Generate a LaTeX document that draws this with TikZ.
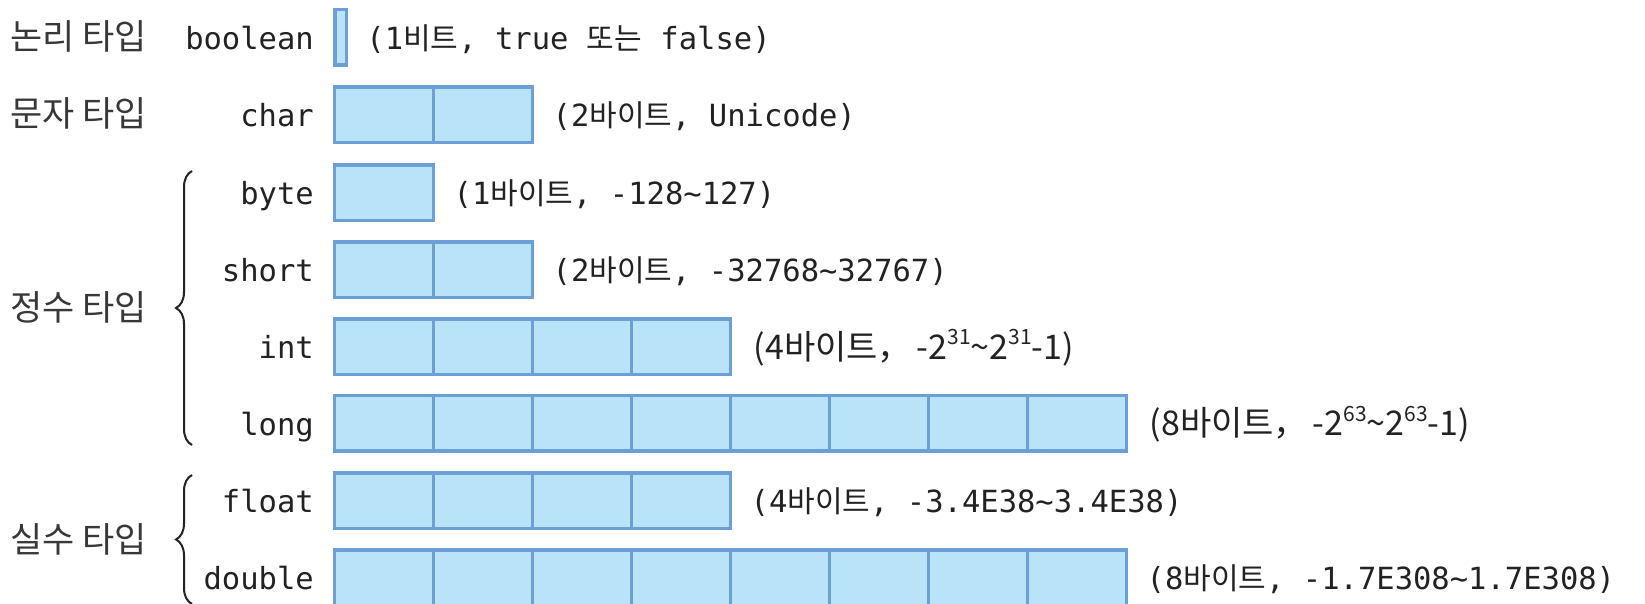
\documentclass[tikz,border=0pt]{standalone}
\usepackage{fontspec}
\setmonofont{DejaVu Sans Mono}
\newfontfamily\krfont{Noto Sans CJK KR}
\usetikzlibrary{decorations.pathreplacing}
\definecolor{cellfill}{HTML}{B9E3F8}
\definecolor{celldraw}{HTML}{6B9FD6}
\definecolor{ink}{HTML}{222222}
\newcommand\ko[1]{{\krfont\fontsize{30}{34}\selectfont #1}}
\newcommand\supr[1]{\raisebox{0.42em}{\fontsize{21}{21}\selectfont #1}}
\newcommand\typerow[3]{%
  \foreach \i in {1,...,#3}{\node[cell] (#1-\i) at ({334.5+99*(\i-0.5)},#2) {};}
  \node[tname] (#1-label) at (314,#2) {#1};
}
\begin{document}
\begin{tikzpicture}[x=1pt,y=-1pt,
  cell/.style={draw=celldraw, fill=cellfill, line width=3.5pt, minimum width=99pt,
    minimum height=55.5pt, inner sep=0pt, outer sep=0pt},
  tname/.style={font=\ttfamily\fontsize{30.5}{36}\selectfont, text=ink, inner sep=0pt, anchor=mid east, yshift=-10pt},
  note/.style={font=\ttfamily\fontsize{30.5}{36}\selectfont, text=ink, inner sep=0pt, anchor=mid west, yshift=-10pt},
  snote/.style={font=\krfont\fontsize{34}{40}\selectfont, text=ink, inner sep=0pt, anchor=mid west, yshift=-10.5pt},
  cat/.style={font=\krfont\fontsize{35}{40}\selectfont, text=ink!90, inner sep=0pt, anchor=mid west, yshift=-10pt},
  bracestyle/.style={draw=ink, line width=2pt, decorate, decoration={brace, amplitude=16pt}}
]
\useasboundingbox (0,0) rectangle (1645,603);

% boolean
\node[cell, minimum width=11.5pt] (boolean-1) at (340.5,37) {};
\node[tname] (boolean-label) at (314,37) {boolean};
\node[note] (boolean-note) at ([xshift=20pt]boolean-1.east) {(1\ko{비트}, true \ko{또는} false)};

% char
\typerow{char}{114.5}{2}
\node[note] (char-note) at ([xshift=20pt]char-2.east) {(2\ko{바이트}, Unicode)};

% integers
\typerow{byte}{192.5}{1}
\node[note] (byte-note) at ([xshift=20pt]byte-1.east) {(1\ko{바이트}, -128\textasciitilde127)};
\typerow{short}{269.5}{2}
\node[note] (short-note) at ([xshift=20pt]short-2.east) {(2\ko{바이트}, -32768\textasciitilde32767)};
\typerow{int}{346.5}{4}
\node[snote] (int-note) at ([xshift=23pt]int-4.east) {(4바이트，\hspace{5pt}-2\supr{31}\textasciitilde2\supr{31}-1)};
\typerow{long}{423}{8}
\node[snote] (long-note) at ([xshift=23pt]long-8.east) {(8바이트，\hspace{5pt}-2\supr{63}\textasciitilde2\supr{63}-1)};

% floating
\typerow{float}{500.5}{4}
\node[note] (float-note) at ([xshift=20pt]float-4.east) {(4\ko{바이트}, -3.4E38\textasciitilde3.4E38)};
\typerow{double}{577.5}{8}
\node[note] (double-note) at ([xshift=20pt]double-8.east) {(8\ko{바이트}, -1.7E308\textasciitilde1.7E308)};

% category labels
\node[cat] (cat-bool) at (10,37) {논리 타입};
\node[cat] (cat-char) at (10,114.5) {문자 타입};
\node[cat] (cat-int) at (10,308) {정수 타입};
\node[cat] (cat-float) at (10,540) {실수 타입};

% braces
\coordinate (ib-top) at (192,171);
\coordinate (ib-bot) at (192,445);
\coordinate (fb-top) at (192,475);
\coordinate (fb-bot) at (192,604);
\draw[bracestyle] (ib-bot) -- (ib-top);
\draw[bracestyle] (fb-bot) -- (fb-top);
\end{tikzpicture}
\end{document}
